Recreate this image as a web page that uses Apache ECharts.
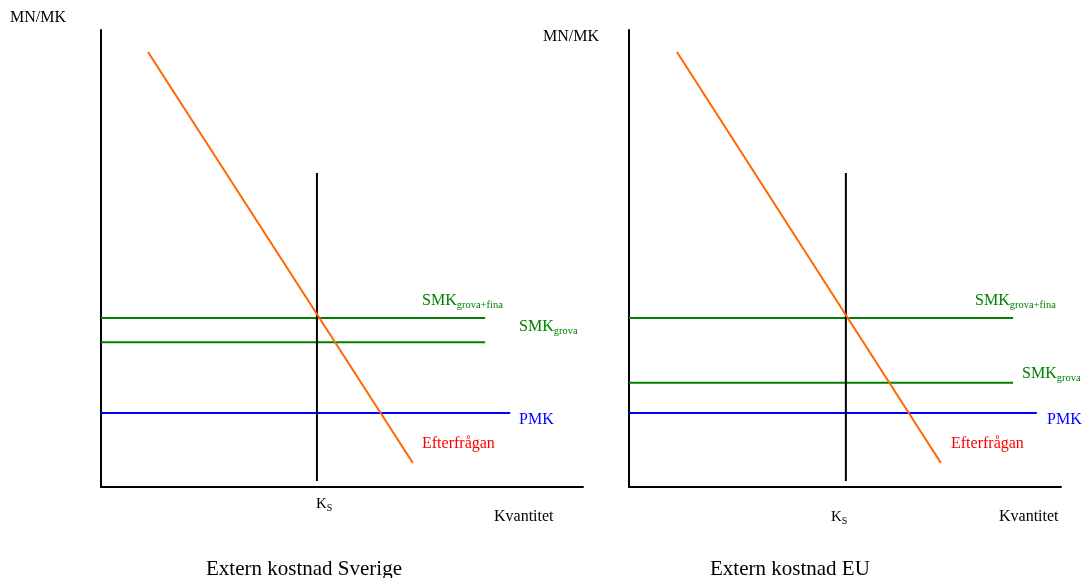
<!DOCTYPE html>
<html>
<head>
<meta charset="utf-8">
<script src="https://cdn.jsdelivr.net/npm/echarts@6/dist/echarts.min.js"></script>
<style>html,body{margin:0;padding:0;background:#fff}#c{width:1083px;height:578px}</style>
</head>
<body>
<div id="c"></div>
<script>
// Panel coordinates in abstract units (0..100 on both axes)
const panelTitles = ['Extern kostnad Sverige', 'Extern kostnad EU'];
// Demand line (Efterfrågan): [x, y] endpoints
const demandLeft = [[9.75, 95.2], [64.7, 5.25]];
const demandRight = [[11.1, 95.2], [72.2, 5.25]];
// Ks vertical line
const ksLeft = [[44.8, 68.7], [44.8, 1.3]];
const ksRight = [[50.2, 68.7], [50.2, 1.3]];
// SMK grova+fina
const smkFinaLeft = [[0, 37.0], [79.7, 37.0]];
const smkFinaRight = [[0, 37.0], [88.9, 37.0]];
// SMK grova
const smkGrovaLeft = [[0, 31.7], [79.7, 31.7]];
const smkGrovaRight = [[0, 22.8], [88.9, 22.8]];
// PMK
const pmkLeft = [[0, 16.2], [84.9, 16.2]];
const pmkRight = [[0, 16.2], [94.4, 16.2]];

const FONT = '"Liberation Serif", "DejaVu Serif", serif';
const ORANGE = '#FF6600', GREEN = '#008000', BLUE = '#0000FF', RED = '#FF0000';

function axisPair(gi) {
  return {
    x: {type: 'value', gridIndex: gi, min: 0, max: 100, axisLine: {show: true, onZero: false, lineStyle: {color: '#000', width: 2}},
        axisTick: {show: false}, axisLabel: {show: false}, splitLine: {show: false}},
    y: {type: 'value', gridIndex: gi, min: 0, max: 100, axisLine: {show: true, onZero: false, lineStyle: {color: '#000', width: 2}},
        axisTick: {show: false}, axisLabel: {show: false}, splitLine: {show: false}}
  };
}
const a0 = axisPair(0), a1 = axisPair(1);

function line(data, color, gi) {
  return {type: 'line', xAxisIndex: gi, yAxisIndex: gi, data: data, symbol: 'none', silent: true,
          lineStyle: {color: color, width: 2}, animation: false};
}

const rich = {
  m: {fontFamily: FONT, fontSize: 16, fill: GREEN, color: GREEN},
  s: {fontFamily: FONT, fontSize: 10.5, fill: GREEN, color: GREEN, padding: [8, 0, 0, 0]},
  k: {fontFamily: FONT, fontSize: 15, fill: '#000', color: '#000'},
  ks: {fontFamily: FONT, fontSize: 10, fill: '#000', color: '#000', padding: [7, 0, 0, 0]}
};
function txt(x, y, text, opts) {
  return {type: 'text', left: x, top: y, style: Object.assign({text: text, font: '16px ' + FONT, fill: '#000'}, opts || {})};
}
function rtxt(x, y, text) {
  return {type: 'text', left: x, top: y, style: {rich: rich, text: text, fill: GREEN}};
}

const chart = echarts.init(document.getElementById('c'));
chart.setOption({
  animation: false,
  backgroundColor: '#fff',
  grid: [
    {left: 101, top: 30, width: 482, height: 457},
    {left: 629, top: 30, width: 432, height: 457}
  ],
  xAxis: [a0.x, a1.x],
  yAxis: [a0.y, a1.y],
  series: [
    line(pmkLeft, BLUE, 0), line(smkGrovaLeft, GREEN, 0), line(smkFinaLeft, GREEN, 0),
    line(ksLeft, '#000', 0), line(demandLeft, ORANGE, 0),
    line(pmkRight, BLUE, 1), line(smkGrovaRight, GREEN, 1), line(smkFinaRight, GREEN, 1),
    line(ksRight, '#000', 1), line(demandRight, ORANGE, 1)
  ],
  graphic: [
    txt(10, 10, 'MN/MK'),
    txt(543, 29, 'MN/MK'),
    rtxt(422, 293, '{m|SMK}{s|grova+fina}'),
    rtxt(519, 319, '{m|SMK}{s|grova}'),
    txt(519, 412, 'PMK', {fill: BLUE}),
    txt(422, 436, 'Efterfrågan', {fill: RED}),
    {type: 'text', left: 316, top: 497, style: {rich: rich, text: '{k|K}{ks|S}', fill: '#000'}},
    txt(494, 509, 'Kvantitet'),
    txt(206, 559, panelTitles[0], {font: '21px ' + FONT}),
    rtxt(975, 293, '{m|SMK}{s|grova+fina}'),
    rtxt(1022, 366, '{m|SMK}{s|grova}'),
    txt(1047, 412, 'PMK', {fill: BLUE}),
    txt(951, 436, 'Efterfrågan', {fill: RED}),
    {type: 'text', left: 831, top: 510, style: {rich: rich, text: '{k|K}{ks|S}', fill: '#000'}},
    txt(999, 509, 'Kvantitet'),
    txt(710, 559, panelTitles[1], {font: '21px ' + FONT})
  ]
});
</script>
</body>
</html>
